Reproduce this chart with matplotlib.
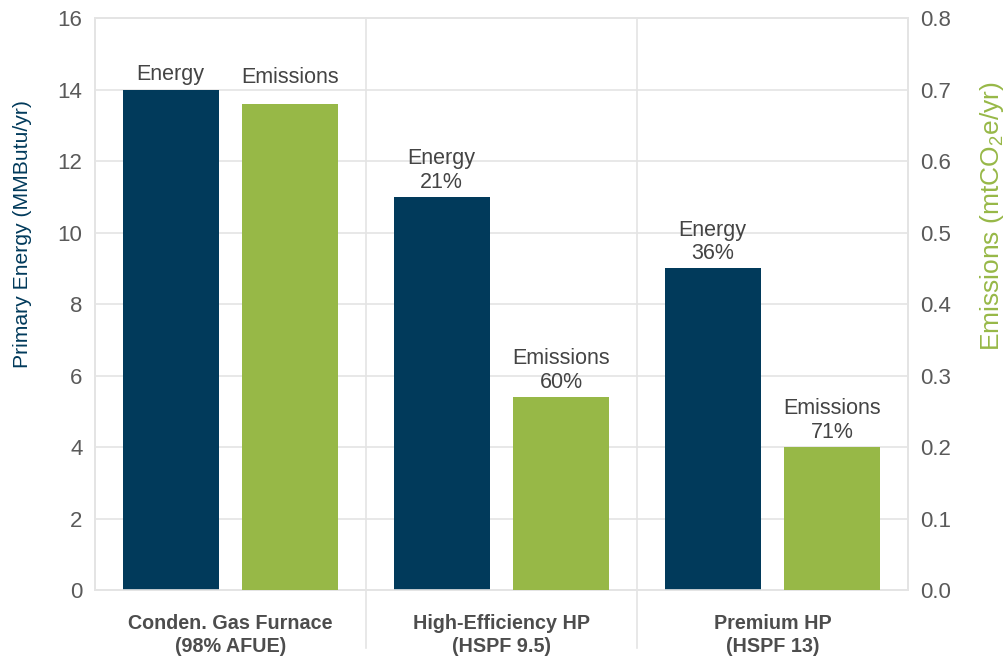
import numpy as np
import matplotlib
matplotlib.use("Agg")
import matplotlib.pyplot as plt

plt.rcParams["font.family"] = ["Liberation Sans", "DejaVu Sans"]
plt.rcParams["mathtext.fontset"] = "custom"
plt.rcParams["mathtext.rm"] = "Liberation Sans"
plt.rcParams["mathtext.it"] = "Liberation Sans"

# data
systems = ["Conden. Gas Furnace\n(98% AFUE)", "High-Efficiency HP\n(HSPF 9.5)", "Premium HP\n(HSPF 13)"]
energy = [14, 11, 9]            # MMBtu/yr
emissions = [0.68, 0.27, 0.20]  # mtCO2e/yr
energy_pct = ["", "21%", "36%"]
emissions_pct = ["", "60%", "71%"]

navy = "#013a5b"
green = "#97b847"
grid_c = "#e4e4e4"
txt = "#444444"

fig = plt.figure(figsize=(10.04, 6.58), dpi=100)
ax = fig.add_axes([0.0946, 0.1033, 0.8097, 0.8693])
ax2 = ax.twinx()

x = np.arange(len(systems))
off = 0.221
w = 0.354

ax.bar(x - off, energy, w, color=navy, zorder=3)
ax2.bar(x + off, emissions, w, color=green, zorder=3)

ax.set_xlim(-0.5, 2.5)
ax.set_ylim(0, 16)
ax2.set_ylim(0, 0.8)
ax.set_yticks(np.arange(0, 17, 2))
ax2.set_yticks(np.arange(0, 0.81, 0.1))
ax2.set_yticklabels([f"{v:.1f}" for v in np.arange(0, 0.81, 0.1)])

ax.yaxis.grid(True, color=grid_c, lw=1.2, zorder=0)
ax.set_axisbelow(True)
for a in (ax, ax2):
    for s in a.spines.values():
        s.set_color(grid_c)
        s.set_linewidth(1.2)
    a.tick_params(length=0, labelsize=16, labelcolor="#5a5a5a", pad=9)

for sep in [0.5, 1.5]:
    ax.axvline(sep, ymin=-0.101, ymax=1, color=grid_c, lw=1.2, clip_on=False, zorder=1)

ax.set_xticks(x)
ax.set_xticklabels(systems, fontsize=14.2, fontweight="bold", color="#4d4d4d", linespacing=1.28)
ax.tick_params(axis="x", pad=17)

ax.set_ylabel("Primary Energy (MMButu/yr)", fontsize=15.2, color=navy)
ax.yaxis.set_label_coords(-0.078, 0.622)
ax2.set_ylabel(r"Emissions (mtCO$_2$e/yr)", fontsize=19, color=green, rotation=90)
ax2.yaxis.set_label_coords(1.086, 0.654)

# bar labels
fs = 15.5
for i in range(len(systems)):
    lab = "Energy" if not energy_pct[i] else "Energy\n" + energy_pct[i]
    ax.annotate(lab, (x[i] - off, energy[i]), xytext=(0, 3), textcoords="offset points",
                ha="center", va="bottom", fontsize=fs, color=txt, linespacing=1.15)
    lab = "Emissions" if not emissions_pct[i] else "Emissions\n" + emissions_pct[i]
    if emissions_pct[i]:
        ax2.annotate(lab, (x[i] + off, emissions[i]), xytext=(0, 3), textcoords="offset points",
                     ha="center", va="bottom", fontsize=fs, color=txt, linespacing=1.15)
    else:
        ax.annotate(lab, (x[i] + off, energy[i]), xytext=(0, 1), textcoords="offset points",
                    ha="center", va="bottom", fontsize=fs, color=txt)

fig.savefig("out.png", dpi=100)
